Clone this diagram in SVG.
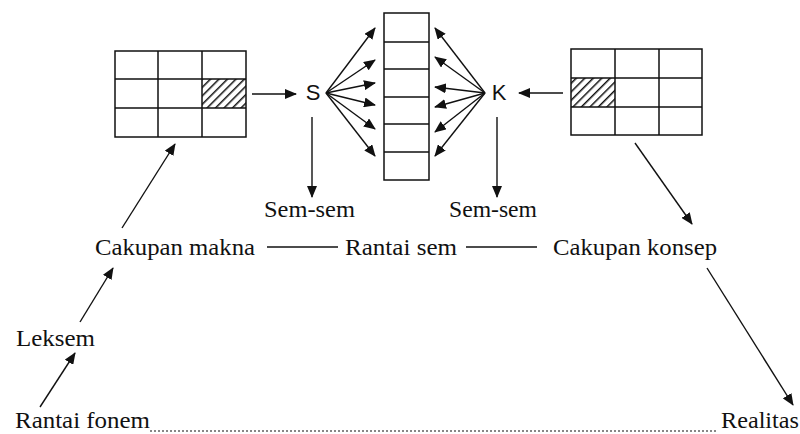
<svg xmlns="http://www.w3.org/2000/svg" width="800" height="434" viewBox="0 0 800 434">
<style>
.grid{fill:none;stroke:#111;stroke-width:1.5}
.ln{stroke:#111;stroke-width:1.4;fill:none}
.arr{stroke:#111;stroke-width:1.4;fill:none;marker-end:url(#ah)}
.dot{stroke:#111;stroke-width:1.2;stroke-dasharray:2 2;fill:none}
</style>
<defs>
<marker id="ah" markerUnits="userSpaceOnUse" markerWidth="12" markerHeight="10" refX="11" refY="5" orient="auto">
<path d="M0,0 L12,5 L0,10 z" fill="#111"/>
</marker>
<pattern id="hatch" patternUnits="userSpaceOnUse" width="6" height="6" patternTransform="rotate(45)">
<rect width="6" height="6" fill="#fff"/>
<line x1="0" y1="0" x2="0" y2="6" stroke="#111" stroke-width="3"/>
</pattern>
</defs>
<rect width="800" height="434" fill="#fff"/>

<g id="grid-left">
<rect x="202" y="79" width="44" height="29" fill="url(#hatch)"/>
<rect class="grid" x="115" y="51" width="131" height="86"/>
<path class="grid" d="M158,51V137M202,51V137M115,79H246M115,108H246"/>
</g>
<g id="grid-right">
<rect x="571" y="78" width="44" height="29" fill="url(#hatch)"/>
<rect class="grid" x="571" y="49" width="131" height="86"/>
<path class="grid" d="M615,49V135M659,49V135M571,78H702M571,107H702"/>
</g>
<g id="column">
<rect class="grid" x="384" y="13" width="45" height="167"/>
<path class="grid" d="M384,42H429M384,69H429M384,97H429M384,124H429M384,152H429"/>
</g>

<g font-family="'Liberation Sans', Arial, sans-serif" font-size="22" fill="#111">
<g id="S"><text x="313" y="100" text-anchor="middle">S</text></g>
<g id="K"><text x="499" y="100" text-anchor="middle">K</text></g>
</g>
<g font-family="'Liberation Serif', 'Times New Roman', serif" font-size="23" fill="#111">
<g id="sem-sem-left"><text x="264" y="217" textLength="91" lengthAdjust="spacingAndGlyphs">Sem-sem</text></g>
<g id="sem-sem-right"><text x="449" y="217" textLength="88" lengthAdjust="spacingAndGlyphs">Sem-sem</text></g>
<g id="cakupan-makna"><text x="95" y="255" textLength="160" lengthAdjust="spacingAndGlyphs">Cakupan makna</text></g>
<g id="rantai-sem"><text x="345" y="255" textLength="112" lengthAdjust="spacingAndGlyphs">Rantai sem</text></g>
<g id="cakupan-konsep"><text x="553" y="255" textLength="164" lengthAdjust="spacingAndGlyphs">Cakupan konsep</text></g>
<g id="leksem"><text x="16" y="346" textLength="79" lengthAdjust="spacingAndGlyphs">Leksem</text></g>
<g id="rantai-fonem"><text x="15" y="428" textLength="135" lengthAdjust="spacingAndGlyphs">Rantai fonem</text></g>
<g id="realitas"><text x="721" y="428" textLength="78" lengthAdjust="spacingAndGlyphs">Realitas</text></g>
</g>

<g id="connectors">
<line class="arr" x1="252" y1="94" x2="296" y2="94"/>
<line class="arr" x1="563" y1="93" x2="519" y2="93"/>
<line class="arr" x1="326" y1="93" x2="375" y2="28"/>
<line class="arr" x1="326" y1="93" x2="375" y2="60"/>
<line class="arr" x1="326" y1="93" x2="375" y2="83"/>
<line class="arr" x1="326" y1="93" x2="375" y2="105"/>
<line class="arr" x1="326" y1="93" x2="375" y2="129"/>
<line class="arr" x1="326" y1="93" x2="375" y2="156"/>
<line class="arr" x1="485" y1="93" x2="435" y2="28"/>
<line class="arr" x1="485" y1="93" x2="435" y2="57"/>
<line class="arr" x1="485" y1="93" x2="435" y2="87"/>
<line class="arr" x1="485" y1="93" x2="435" y2="107"/>
<line class="arr" x1="485" y1="93" x2="435" y2="132"/>
<line class="arr" x1="485" y1="93" x2="435" y2="156"/>
<line class="arr" x1="312" y1="117" x2="312" y2="197"/>
<line class="arr" x1="497" y1="117" x2="497" y2="197"/>
<line class="ln" x1="267" y1="247" x2="338" y2="247"/>
<line class="ln" x1="466" y1="247" x2="537" y2="247"/>
<line class="arr" x1="122" y1="228" x2="175" y2="144"/>
<line class="arr" x1="635" y1="143" x2="692" y2="224"/>
<line class="arr" x1="80" y1="322" x2="113" y2="268"/>
<line class="arr" x1="40" y1="407" x2="75" y2="353"/>
<line class="arr" x1="707" y1="268" x2="793" y2="405"/>
<line class="dot" x1="150" y1="431" x2="717" y2="431"/>
</g>
</svg>
